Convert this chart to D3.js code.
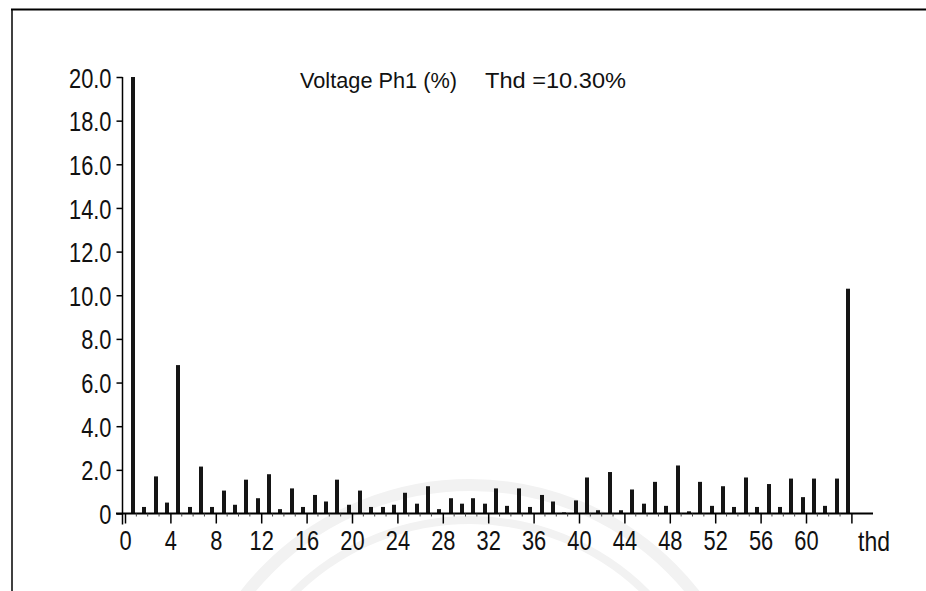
<!DOCTYPE html>
<html>
<head>
<meta charset="utf-8">
<script src="https://cdn.jsdelivr.net/npm/d3@7"></script>
<style>
  html, body { margin: 0; padding: 0; background: #fff; }
  svg { display: block; }
  text { font-family: 'Liberation Sans Narrow', 'Arial Narrow', 'Liberation Sans', Arial, sans-serif; fill: #111; }
</style>
</head>
<body>
<svg id="chart" width="926" height="591"></svg>
<script>
// ---- data ----
const harmonics = d3.range(1, 64);           // harmonic orders 1..63
const harmonicValues = [
  20.0, 0.3, 1.7, 0.5, 6.8, 0.3, 2.15, 0.3, 1.05, 0.4,
  1.55, 0.7, 1.8, 0.2, 1.15, 0.3, 0.85, 0.55, 1.55, 0.4,
  1.05, 0.3, 0.3, 0.4, 0.95, 0.45, 1.25, 0.2, 0.7, 0.45,
  0.7, 0.45, 1.15, 0.35, 1.15, 0.3, 0.85, 0.55, 0.05, 0.6,
  1.65, 0.15, 1.9, 0.15, 1.1, 0.45, 1.45, 0.35, 2.2, 0.1,
  1.45, 0.35, 1.25, 0.3, 1.65, 0.3, 1.35, 0.3, 1.6, 0.75,
  1.6, 0.35, 1.6
];
const thdValue = 10.3;
const thdPosition = 64;
const xTickValues = [0, 4, 8, 12, 16, 20, 24, 28, 32, 36, 40, 44, 48, 52, 56, 60];
const yTickValues = [0, 2, 4, 6, 8, 10, 12, 14, 16, 18, 20];
const titleLeft = "Voltage Ph1 (%)";
const titleRight = "Thd =10.30%";
const thdLabel = "thd";

// ---- drawing ----
const svg = d3.select("#chart");
const narrow = 0.78; // condense factor to mimic the narrow font

function condense(sel, factor) {
  sel.each(function () {
    const len = this.getComputedTextLength();
    if (len > 0) {
      d3.select(this).attr("textLength", len * factor).attr("lengthAdjust", "spacingAndGlyphs");
    }
  });
}

// faint background watermark arcs
const wm = svg.append("g").attr("fill", "none");
[[285, 12], [250, 8]].forEach(([r, w]) => {
  wm.append("circle").attr("cx", 470).attr("cy", 770).attr("r", r)
    .attr("stroke", "#f2f2f2").attr("stroke-width", w);
});

// frame lines (top and left)
svg.append("line").attr("x1", 11).attr("x2", 926).attr("y1", 9.5).attr("y2", 9.5)
  .attr("stroke", "#000").attr("stroke-width", 2);
svg.append("line").attr("x1", 12).attr("x2", 12).attr("y1", 9).attr("y2", 591)
  .attr("stroke", "#000").attr("stroke-width", 1.5);

const x = d3.scaleLinear().domain([0, 60]).range([125, 806]);
const y = d3.scaleLinear().domain([0, 20]).range([513.5, 77]);

const barOffset = -0.3;   // bars sit slightly left of their tick
const barW = 4;

// bars
const g = svg.append("g");
g.selectAll("rect.h").data(harmonics).join("rect")
  .attr("class", "h")
  .attr("x", (d) => Math.round(x(d + barOffset) - barW / 2))
  .attr("width", barW)
  .attr("y", (d, i) => y(harmonicValues[i]))
  .attr("height", (d, i) => y(0) - y(harmonicValues[i]))
  .attr("fill", "#151515");
g.append("rect")
  .attr("x", Math.round(x(thdPosition + barOffset) - barW / 2))
  .attr("width", barW)
  .attr("y", y(thdValue))
  .attr("height", y(0) - y(thdValue))
  .attr("fill", "#151515");

// y axis
const yAxis = d3.axisLeft(y).tickValues(yTickValues).tickSize(6).tickPadding(5)
  .tickFormat((d) => d === 0 ? "0" : d3.format(".1f")(d));
const yg = svg.append("g").attr("transform", "translate(122.5,0)").call(yAxis);
yg.select(".domain").attr("stroke", "#000").attr("stroke-width", 1.5)
  .attr("d", `M0,${y(20)}V${y(0) + 11}`);
yg.selectAll(".tick line").attr("stroke", "#000").attr("stroke-width", 1.5);
yg.selectAll(".tick text").attr("font-size", 28).attr("dy", "0.36em")
  .call(condense, narrow);

// x axis
const xAxis = d3.axisBottom(x).tickValues(xTickValues.concat([thdPosition])).tickSize(10).tickPadding(6)
  .tickFormat((d) => d === thdPosition ? "" : String(d));
const xg = svg.append("g").attr("transform", `translate(0,${y(0)})`).call(xAxis);
xg.select(".domain").attr("stroke", "#000").attr("stroke-width", 2)
  .attr("d", `M116,0H873`);
xg.selectAll(".tick line").attr("stroke", "#000").attr("stroke-width", 1.5);
xg.selectAll(".tick text").attr("font-size", 28).attr("dy", "0.72em")
  .call(condense, narrow);
svg.selectAll("g.tick text").attr("font-family", null);

// minor ticks
const minor = d3.range(1, 64).filter((d) => d % 4 !== 0);
svg.append("g").selectAll("line").data(minor).join("line")
  .attr("x1", (d) => x(d)).attr("x2", (d) => x(d))
  .attr("y1", y(0)).attr("y2", y(0) + 3)
  .attr("stroke", "#444").attr("stroke-width", 1);

// thd label
svg.append("text").attr("x", 874).attr("y", 551).attr("text-anchor", "middle")
  .attr("font-size", 28).text(thdLabel).call(condense, 0.82);

// title
svg.append("text").attr("x", 300).attr("y", 88).attr("font-size", 22)
  .attr("textLength", 157).attr("lengthAdjust", "spacingAndGlyphs").text(titleLeft);
svg.append("text").attr("x", 485).attr("y", 88).attr("font-size", 22)
  .attr("textLength", 141).attr("lengthAdjust", "spacingAndGlyphs").text(titleRight);
</script>
</body>
</html>
